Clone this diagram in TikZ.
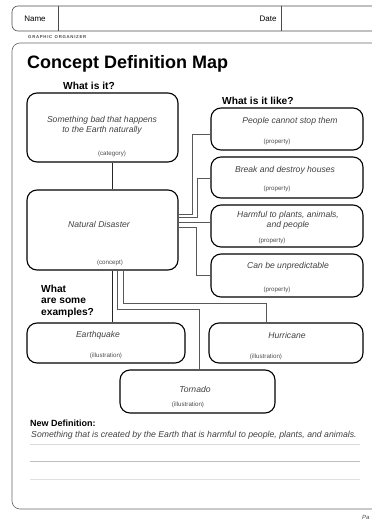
\documentclass[tikz,border=0pt]{standalone}
\usepackage{fontspec}
\setmainfont{Liberation Sans}
\begin{document}
\begin{tikzpicture}[x=1pt,y=-1pt,
  box/.style={draw, line width=1.1pt, rounded corners=10pt, inner sep=0pt},
  ans/.style={font=\fontsize{8.6}{10}\selectfont\itshape, text=black!75, align=center, inner sep=0pt},
  tag/.style={font=\fontsize{6.2}{7}\selectfont, text=black!70, inner sep=0pt},
  ques/.style={font=\fontsize{10.2}{11.5}\selectfont\bfseries, anchor=west, align=left, inner sep=0pt},
  link/.style={draw=black!65, line width=0.9pt},
  rule/.style={draw=black!25, line width=0.6pt}]
\useasboundingbox (0,0) rectangle (372,520);
\clip (0,0) rectangle (372,520);
% header
\draw[line width=0.6pt, draw=black!70, rounded corners=6pt] (380,6) -- (12,6) -- (12,31) -- (380,31);
\draw[line width=0.6pt, draw=black!70] (58,6) -- (58,31) (281,6) -- (281,31);
\node[font=\fontsize{8}{9}\selectfont, inner sep=0pt] (name) at (35,18.5) {Name};
\node[font=\fontsize{8}{9}\selectfont, inner sep=0pt] (date) at (268,18.5) {Date};
\node[font=\fontsize{4.3}{5}\selectfont\bfseries, text=black!70, anchor=west, inner sep=0pt] (go) at (28,37) {G\,R\,A\,P\,H\,I\,C\ \ O\,R\,G\,A\,N\,I\,Z\,E\,R};
% panel
\draw[line width=0.6pt, draw=black!60, rounded corners=8pt] (380,43) -- (12,43) -- (12,509) -- (380,509);
\node[font=\fontsize{18}{20}\selectfont\bfseries, anchor=west, inner sep=0pt] (title) at (27,64) {Concept Definition Map};
% questions
\node[ques] (q1) at (63,86) {What is it?};
\node[ques] (q2) at (222,101) {What is it like?};
\node[ques] (q3) at (41,301) {What\\are some\\examples?};
% boxes
\node[box, minimum width=151pt, minimum height=69pt] (cat) at (102.5,127.5) {};
\node[box, minimum width=151pt, minimum height=80pt] (con) at (102.5,230) {};
\node[box, minimum width=152pt, minimum height=42pt] (p1) at (287,129) {};
\node[box, minimum width=152pt, minimum height=41pt] (p2) at (287,177.5) {};
\node[box, minimum width=152pt, minimum height=42pt] (p3) at (287,226) {};
\node[box, minimum width=152pt, minimum height=43pt] (p4) at (287,275.5) {};
\node[box, minimum width=158pt, minimum height=40pt] (eq) at (106,343) {};
\node[box, minimum width=154pt, minimum height=40pt] (hu) at (286,343) {};
\node[box, minimum width=155pt, minimum height=43pt] (to) at (197.5,391.5) {};
% box texts
\node[ans] (catT) at (102,125.5) {Something bad that happens\\to the Earth naturally};
\node[tag] (catG) at (112,154) {(category)};
\node[ans] (conT) at (99,224) {Natural Disaster};
\node[tag] (conG) at (110,263) {(concept)};
\node[ans] (p1T) at (290,121) {People cannot stop them};
\node[tag] (p1G) at (277,142) {(property)};
\node[ans] (p2T) at (285,170.5) {Break and destroy houses};
\node[tag] (p2G) at (277,189) {(property)};
\node[ans] (p3T) at (288,220) {Harmful to plants, animals,\\and people};
\node[tag] (p3G) at (272,241) {(property)};
\node[ans] (p4T) at (288,266) {Can be unpredictable};
\node[tag] (p4G) at (277,290) {(property)};
\node[ans] (eqT) at (98,335) {Earthquake};
\node[tag] (eqG) at (106,356) {(illustration)};
\node[ans] (huT) at (287,335) {Hurricane};
\node[tag] (huG) at (266,357) {(illustration)};
\node[ans] (toT) at (195,389) {Tornado};
\node[tag] (toG) at (188,405) {(illustration)};
% connectors
\draw[draw=black!85, line width=0.9pt] (cat.south -| 112,0) -- (con.north -| 112,0);
\draw[link] (con.east |- 0,214) -| (192,134) -- (p1.west |- 0,134);
\draw[link] (con.east |- 0,217.5) -| (197,178) -- (p2.west |- 0,178);
\draw[link] (con.east |- 0,222.5) -- (p3.west |- 0,222.5);
\draw[link] (con.east |- 0,227) -| (196,275) -- (p4.west |- 0,275);
\draw[draw=black!85, line width=0.9pt] (con.south -| 112,0) -- (eq.north -| 112,0);
\draw[link] (con.south -| 117,0) |- (199,309) -- (to.north -| 199,0);
\draw[link] (con.south -| 123,0) |- (266,303) -- (hu.north -| 266,0);
% new definition
\node[ques, font=\fontsize{9}{10}\selectfont\bfseries] (nd) at (30,423) {New Definition:};
\node[font=\fontsize{8.7}{10}\selectfont\itshape, text=black!75, anchor=west, inner sep=0pt] (def) at (31,435) {Something that is created by the Earth that is harmful to people, plants, and animals.};
\draw[rule, draw=black!15] (30,444) -- (360,444);
\draw[rule] (30,461) -- (360,461);
\draw[rule, draw=black!12] (30,479) -- (360,479);
\node[font=\fontsize{6}{7}\selectfont\itshape, text=black!70, anchor=west, inner sep=0pt] (pa) at (362,517) {Pa};
\end{tikzpicture}
\end{document}
